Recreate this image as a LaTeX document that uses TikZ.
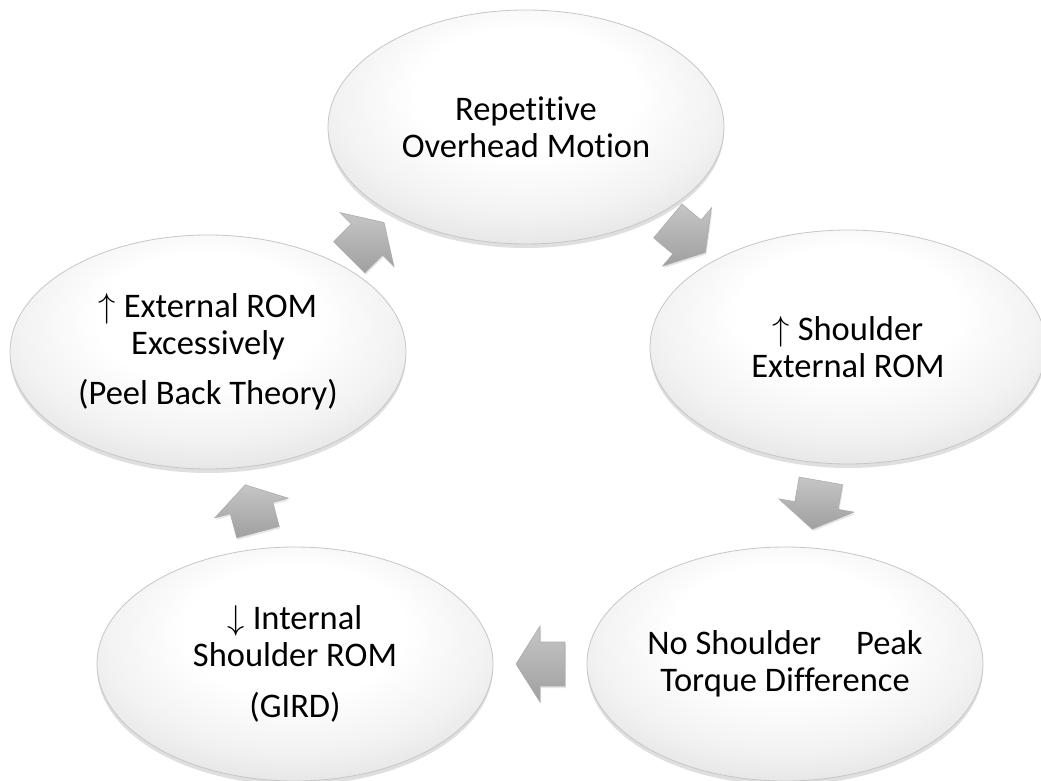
\documentclass[tikz,border=0pt]{standalone}
\usepackage{fix-cm}
\usepackage{fontspec}
\setmainfont{Carlito}[Ligatures=NoCommon]
\usepackage{tikz}
\usetikzlibrary{shapes.geometric,shadows,calc}

\pgfdeclareradialshading{ellshade}{\pgfpoint{0bp}{10bp}}{color(0bp)=(white); color(14bp)=(white); color(24bp)=(gray!10); color(30bp)=(gray!20); color(35bp)=(gray!38); color(50bp)=(gray!38)}

\begin{document}
\begin{tikzpicture}
  [x=1pt,y=1pt,
    stepell/.style={ellipse,shading=ellshade,draw=gray!45,line width=0.8pt,
      minimum width=396pt,minimum height=234pt,inner sep=0pt,align=center,
      font=\fontsize{34.5}{37}\selectfont,
      drop shadow={shadow xshift=0pt,shadow yshift=-4pt,opacity=0.25}},
    blockarr/.style={top color=gray!45,bottom color=gray!75,draw=gray!65,line width=0.6pt,
      drop shadow={shadow xshift=1pt,shadow yshift=-2pt,opacity=0.2}}]
  \useasboundingbox (0,0) rectangle (1041,780);
  \node[stepell] (rep) at (526,653) {Repetitive\\Overhead Motion};
  \node[stepell] (ext) at (848,433) {$\uparrow$ Shoulder\\External ROM};
  \node[stepell] (tor) at (785,116) {No Shoulder\hspace{35pt}Peak\\Torque Difference};
  \node[stepell] (gird) at (295,116) {$\downarrow$ Internal\\Shoulder ROM\\[14pt](GIRD)};
  \node[stepell] (peel) at (208,428) {$\uparrow$ External ROM\\Excessively\\[13pt](Peel Back Theory)};
  % block arrows between the ellipses
  \foreach \a/\b/\ang in {rep/ext/-40, ext/tor/-100, tor/gird/180, gird/peel/105, peel/rep/45}
    \path[blockarr,shift={($(\a)!0.5!(\b)$)},rotate=\ang]
      (-25,22) -- (0,22) -- (0,38) -- (24,0) -- (0,-38) -- (0,-22) -- (-25,-22) -- cycle;
\end{tikzpicture}
\end{document}
